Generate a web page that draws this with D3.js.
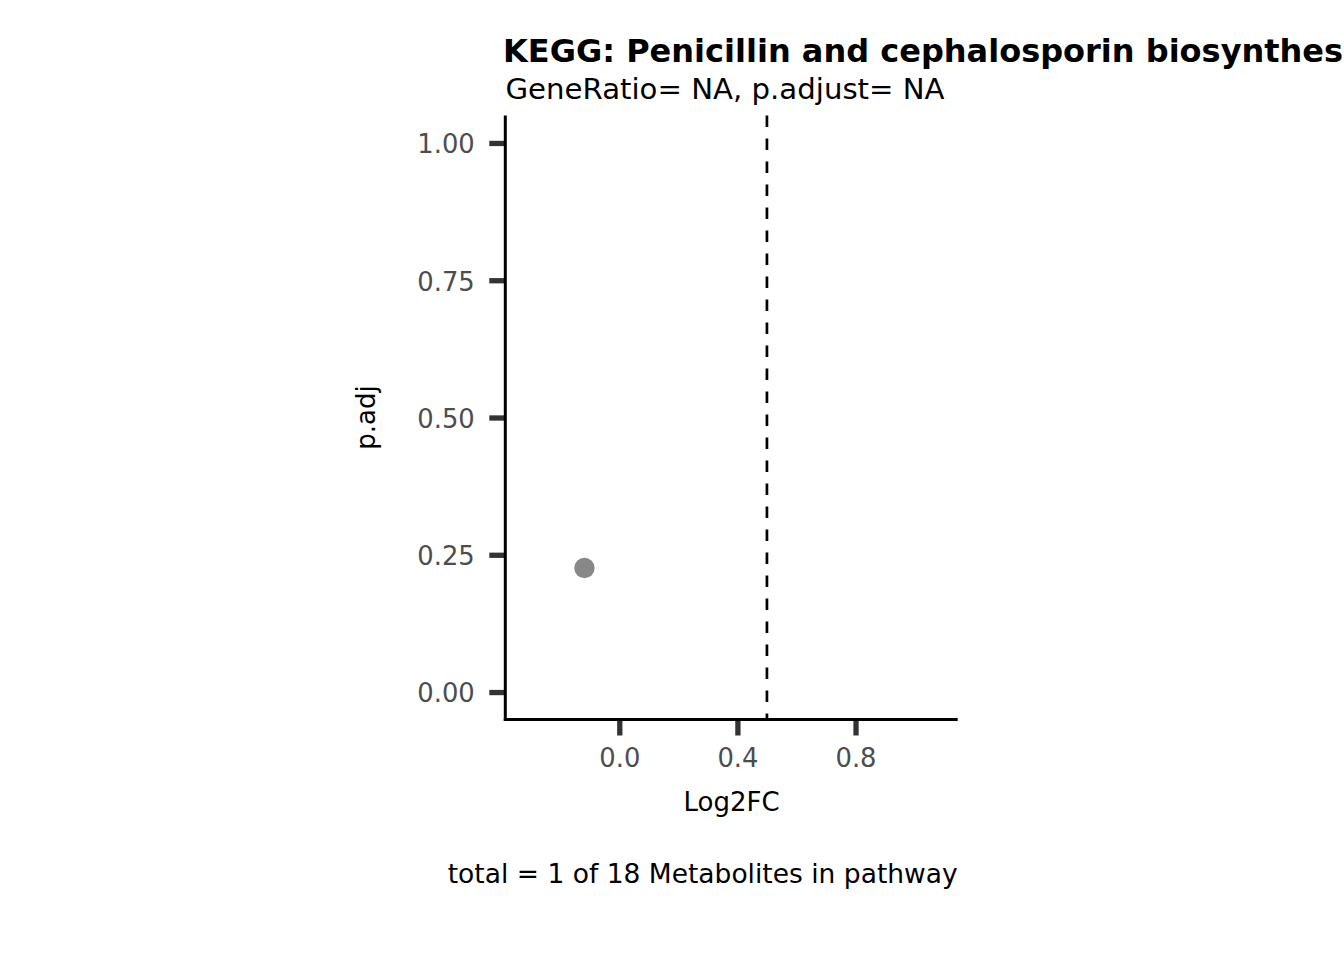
<!DOCTYPE html>
<html>
<head>
<meta charset="utf-8">
<script src="https://cdn.jsdelivr.net/npm/d3@7"></script>
<style>
  html, body { margin: 0; padding: 0; background: #fff; }
  svg { display: block; }
  text { font-family: "DejaVu Sans", sans-serif; }
</style>
</head>
<body>
<svg id="chart" width="1344" height="960"></svg>
<script>
// ---- data ----
const titleText = "KEGG: Penicillin and cephalosporin biosynthesis";
const subtitleText = "GeneRatio= NA, p.adjust= NA";
const captionText = "total = 1 of 18 Metabolites in pathway";
const xLabel = "Log2FC";
const yLabel = "p.adj";
const metaboliteLog2FC = [-0.118];
const metabolitePadj = [0.226];
const thresholdLog2FC = [0.5];
const xTickValues = [0.0, 0.4, 0.8];
const yTickValues = [0.00, 0.25, 0.50, 0.75, 1.00];
const xDomain = [-0.386, 1.146];
const yDomain = [-0.05, 1.05];

// ---- layout ----
const svg = d3.select("#chart");
const panel = { left: 505.3, right: 957.7, top: 115.5, bottom: 719.5 };

const x = d3.scaleLinear().domain(xDomain).range([panel.left, panel.right]);
const y = d3.scaleLinear().domain(yDomain).range([panel.bottom, panel.top]);

// dashed threshold line
svg.selectAll("line.vline").data(thresholdLog2FC).join("line")
  .attr("class", "vline")
  .attr("x1", d => x(d)).attr("x2", d => x(d))
  .attr("y1", panel.top).attr("y2", panel.bottom)
  .attr("stroke", "#000").attr("stroke-width", 2.7)
  .attr("stroke-dasharray", "11.5,11.5");

// points
const pts = metaboliteLog2FC.map((v, i) => ({ x: v, y: metabolitePadj[i] }));
svg.selectAll("circle.pt").data(pts).join("circle")
  .attr("class", "pt")
  .attr("cx", d => x(d.x)).attr("cy", d => y(d.y))
  .attr("r", 10.2).attr("fill", "#888888");

// x axis
const xAxis = d3.axisBottom(x).tickValues(xTickValues)
  .tickFormat(d3.format(".1f")).tickSize(16).tickPadding(10);
const gx = svg.append("g").attr("transform", `translate(0,${panel.bottom})`).call(xAxis);
gx.select(".domain").remove();
gx.selectAll(".tick line").attr("stroke", "#333333").attr("stroke-width", 5.3);
gx.selectAll(".tick text").attr("fill", "#4D4D4D").attr("font-size", 25.8)
  .attr("dy", null).attr("y", 47.2);

// y axis
const yAxis = d3.axisLeft(y).tickValues(yTickValues)
  .tickFormat(d3.format(".2f")).tickSize(16).tickPadding(10);
const gy = svg.append("g").attr("transform", `translate(${panel.left},0)`).call(yAxis);
gy.select(".domain").remove();
gy.selectAll(".tick line").attr("stroke", "#333333").attr("stroke-width", 5.3);
gy.selectAll(".tick text").attr("fill", "#4D4D4D").attr("font-size", 25.8)
  .attr("dy", null).attr("y", 9.8).attr("x", -30.5);

// axis lines
svg.append("line")
  .attr("x1", panel.left).attr("x2", panel.left)
  .attr("y1", panel.top).attr("y2", panel.bottom + 1.5)
  .attr("stroke", "#000").attr("stroke-width", 3);
svg.append("line")
  .attr("x1", panel.left - 1.5).attr("x2", panel.right)
  .attr("y1", panel.bottom).attr("y2", panel.bottom)
  .attr("stroke", "#000").attr("stroke-width", 3);

// axis titles
svg.append("text").attr("x", (panel.left + panel.right) / 2).attr("y", 810.7)
  .attr("text-anchor", "middle").attr("font-size", 26).attr("fill", "#000")
  .text(xLabel);
svg.append("text")
  .attr("transform", `translate(375,${(panel.top + panel.bottom) / 2}) rotate(-90)`)
  .attr("text-anchor", "middle").attr("font-size", 26).attr("fill", "#000")
  .text(yLabel);

// title & subtitle
svg.append("text").attr("x", 503).attr("y", 62)
  .attr("font-size", 32).attr("font-weight", "bold").attr("fill", "#000")
  .text(titleText);
svg.append("text").attr("x", 505.5).attr("y", 98.5)
  .attr("font-size", 29.2).attr("fill", "#000")
  .text(subtitleText);

// caption
svg.append("text").attr("x", 957.7).attr("y", 883.3)
  .attr("text-anchor", "end")
  .attr("font-size", 26.5).attr("fill", "#000")
  .text(captionText);
</script>
</body>
</html>
